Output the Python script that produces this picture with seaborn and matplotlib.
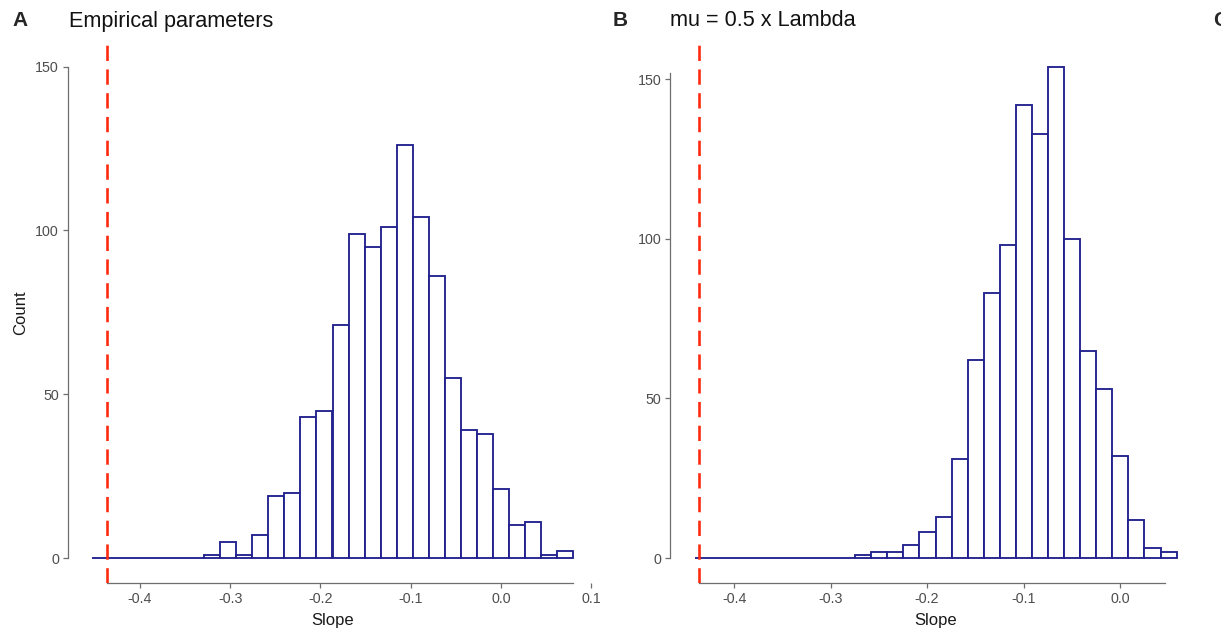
import numpy as np
import pandas as pd
import matplotlib
matplotlib.use("Agg")
import matplotlib.pyplot as plt
import seaborn as sns

# ---------------- data ----------------
# Panel A: "Empirical parameters" (30 bins)
a_bin_start = -0.453
a_bin_end = 0.0797
a_counts = [0, 0, 0, 0, 0, 0, 0,
            1, 5, 1, 7, 19, 20, 43, 45, 71, 99, 95, 101, 126, 104,
            86, 55, 39, 38, 21, 10, 11, 1, 2]
# Panel B: "mu = 0.5 x Lambda" (30 bins)
b_bin_start = -0.441
b_bin_end = 0.0586
b_counts = [0, 0, 0, 0, 0, 0, 0, 0, 0, 0,
            1, 2, 2, 4, 8, 13, 31, 62, 83, 98, 142, 133, 154, 100,
            65, 53, 32, 12, 3, 2]
observed_slope = -0.436

titles = ["Empirical parameters", "mu = 0.5 x Lambda"]
panel_letters = ["A", "B", "C"]
x_ticks_a = [-0.4, -0.3, -0.2, -0.1, 0.0, 0.1]
x_ticks_b = [-0.4, -0.3, -0.2, -0.1, 0.0]
y_ticks = [0, 50, 100, 150]

# ---------------- style ----------------
sns.set_style("white")
plt.rcParams["font.family"] = ["Liberation Sans", "DejaVu Sans"]
plt.rcParams["axes.unicode_minus"] = False

W, H = 1221, 631
fig = plt.figure(figsize=(W / 100, H / 100), dpi=100)

bar_edge = "#22228e"
red = "#ff2a10"
axis_grey = "#6e6e6e"
tick_text = "#4d4d4d"


def px_axes(left, right, top, bottom):
    return fig.add_axes([left / W, (H - bottom) / H, (right - left) / W, (bottom - top) / H])


ax_a = px_axes(68, 597, 42, 582.6)
ax_b = px_axes(670.4, 1200.7, 42, 582.6)

panels = [
    (ax_a, a_bin_start, a_bin_end, a_counts, x_ticks_a, (-0.436, 0.0797), (0, 150), (-7.5, 157.5)),
    (ax_b, b_bin_start, b_bin_end, b_counts, x_ticks_b, (-0.436, 0.0465), (0, 152), (-7.7, 161.7)),
]

for i, (ax, bstart, bend, counts, xt, xb, yb, ylim) in enumerate(panels):
    edges = np.linspace(bstart, bend, len(counts) + 1)
    centers = (edges[:-1] + edges[1:]) / 2
    # one observation per counted item, placed at its bin centre
    values = np.repeat(centers, counts)
    df = pd.DataFrame({"slope": values})
    sns.histplot(data=df, x="slope", bins=[float(e) for e in edges], ax=ax,
                 color="white", edgecolor=bar_edge, linewidth=1.35, alpha=1.0)
    ax.axvline(observed_slope, color=red, lw=1.9, ls=(0, (5.8, 3.2)), zorder=5)

    rng = bend - bstart
    ax.set_xlim(bstart - 0.05 * rng, bend + 0.05 * rng)
    ax.set_ylim(*ylim)
    ax.set_xticks(xt)
    ax.set_xticklabels([f"{v:.1f}" for v in xt])
    ax.set_yticks(y_ticks)
    ax.set_yticklabels([str(v) for v in y_ticks])

    for s in ["top", "right"]:
        ax.spines[s].set_visible(False)
    for s in ["left", "bottom"]:
        ax.spines[s].set_color(axis_grey)
        ax.spines[s].set_linewidth(0.9)
    ax.spines["bottom"].set_bounds(*xb)
    ax.spines["left"].set_bounds(*yb)

    ax.tick_params(axis="both", which="major", direction="out", length=3.5, width=0.9,
                   color=axis_grey, labelcolor=tick_text, labelsize=10.3, pad=3,
                   bottom=True, left=True)
    ax.set_xlabel("Slope", fontsize=12, color="#1a1a1a", labelpad=5)
    ax.set_ylabel("Count" if i == 0 else "", fontsize=12, color="#1a1a1a", labelpad=5)
    ax.grid(False)

# titles & panel letters
ty = 1 - 21 / H
fig.text(12 / W, ty, panel_letters[0], fontsize=15, fontweight="bold", va="center", ha="left")
fig.text(69 / W, ty, titles[0], fontsize=15.6, va="center", ha="left", color="#111111")
fig.text(613 / W, ty, panel_letters[1], fontsize=15, fontweight="bold", va="center", ha="left")
fig.text(670 / W, ty, titles[1], fontsize=15.6, va="center", ha="left", color="#111111")
fig.text(1213 / W, ty, panel_letters[2], fontsize=15, fontweight="bold", va="center", ha="left")

fig.savefig("out.png", dpi=100, facecolor="white")
